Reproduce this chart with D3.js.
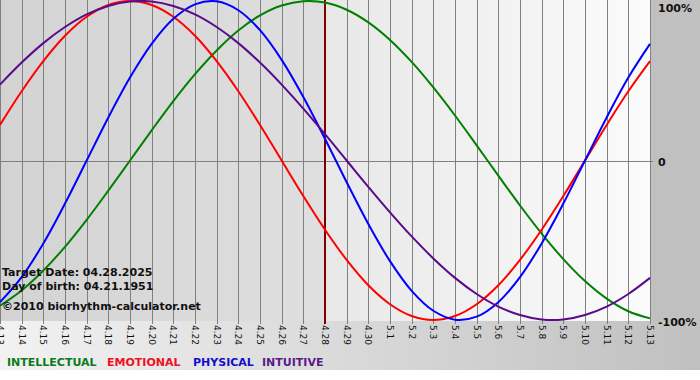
<!DOCTYPE html>
<html><head><meta charset="utf-8">
<script src="https://cdn.jsdelivr.net/npm/d3@7/dist/d3.min.js"></script>
<style>body{margin:0;background:#fff}svg{display:block}</style>
</head><body>
<script>
const dates = ["4.13","4.14","4.15","4.16","4.17","4.18","4.19","4.20","4.21","4.22","4.23","4.24","4.25","4.26","4.27","4.28","4.29","4.30","5.1","5.2","5.3","5.4","5.5","5.6","5.7","5.8","5.9","5.10","5.11","5.12","5.13"];
const intellectual = [-0.910,-0.815,-0.690,-0.541,-0.372,-0.189,0,0.189,0.372,0.541,0.690,0.815,0.910,0.972,0.999,0.990,0.945,0.866,0.756,0.618,0.458,0.282,0.095,-0.095,-0.282,-0.458,-0.618,-0.756,-0.866,-0.945,-0.990];
const emotional = [0.223,0.434,0.623,0.782,0.901,0.975,1.000,0.975,0.901,0.782,0.623,0.434,0.223,0,-0.223,-0.434,-0.623,-0.782,-0.901,-0.975,-1.000,-0.975,-0.901,-0.782,-0.623,-0.434,-0.223,0,0.223,0.434,0.623];
const physical = [-0.888,-0.731,-0.520,-0.270,0,0.270,0.520,0.731,0.888,0.979,0.998,0.942,0.817,0.631,0.398,0.136,-0.136,-0.398,-0.631,-0.817,-0.942,-0.998,-0.979,-0.888,-0.731,-0.520,-0.270,0,0.270,0.520,0.731];
const intuitive = [0.476,0.614,0.736,0.837,0.916,0.969,0.997,0.997,0.969,0.916,0.837,0.736,0.614,0.476,0.325,0.165,0,-0.165,-0.325,-0.476,-0.614,-0.736,-0.837,-0.916,-0.969,-0.997,-0.997,-0.969,-0.916,-0.837,-0.736];
const seriesNames = ["INTELLECTUAL","EMOTIONAL","PHYSICAL","INTUITIVE"];
const seriesColors = ["#008000","#ff0000","#0000ff","#5a0a8c"];
const legendColors = ["#0a7a1a","#ee1122","#1010cc","#5a1a8a"];
const yTicks = [1,0,-1];
const yTickLabels = ["100%","0","-100%"];
const targetDate = "4.28";
const infoLines = ["Target Date: 04.28.2025","Day of birth: 04.21.1951","©2010 biorhythm-calculator.net"];

const W=700,H=380, plotR=651, plotB=321;
const svg=d3.select("body").append("svg").attr("width",W).attr("height",H);
const defs=svg.append("defs");
function grad(id,c1,c2){const g=defs.append("linearGradient").attr("id",id).attr("x1","0").attr("x2","1").attr("y1","0").attr("y2","0");
 g.append("stop").attr("offset","0").attr("stop-color",c1);g.append("stop").attr("offset","1").attr("stop-color",c2);}
grad("gBot","#f2f2f2","#c0c0c0");
grad("gL","#d3d3d3","#dfdfdf");
grad("gR","#e8e8e8","#fbfbfb");

const x=d3.scalePoint().domain(dates).range([0,650]);
const y=d3.scaleLinear().domain([-1,1]).range([320,1]);
const tx=x(targetDate);

svg.append("rect").attr("x",0).attr("y",0).attr("width",W).attr("height",370).attr("fill","url(#gBot)");
svg.append("rect").attr("x",plotR).attr("y",0).attr("width",W-plotR).attr("height",plotB).attr("fill","#c0c0c0");
svg.append("rect").attr("x",0).attr("y",0).attr("width",tx).attr("height",plotB).attr("fill","url(#gL)");
svg.append("rect").attr("x",tx).attr("y",0).attr("width",plotR-tx).attr("height",plotB).attr("fill","url(#gR)");

// vertical grid + ticks
svg.append("g").selectAll("line").data(dates).join("line")
 .attr("x1",d=>Math.round(x(d))+0.5).attr("x2",d=>Math.round(x(d))+0.5)
 .attr("y1",0).attr("y2",324).attr("stroke","#808080").attr("stroke-width",1);
// zero line
svg.append("line").attr("x1",0).attr("x2",653).attr("y1",Math.round(y(0))+0.5).attr("y2",Math.round(y(0))+0.5)
 .attr("stroke","#808080").attr("stroke-width",1);

// target line
svg.append("line").attr("x1",tx).attr("x2",tx).attr("y1",0).attr("y2",324).attr("stroke","#800000").attr("stroke-width",2);

// curves
const line=d3.line().x((d,i)=>x(dates[i])).y(d=>y(d)).curve(d3.curveCatmullRom.alpha(0.5));
const allSeries=[intellectual,emotional,physical,intuitive];
svg.append("g").selectAll("path").data(allSeries).join("path")
 .attr("d",d=>line(d)).attr("fill","none").attr("stroke",(d,i)=>seriesColors[i]).attr("stroke-width",2);

// x tick labels
svg.append("g").selectAll("text").data(dates).join("text")
 .attr("transform",d=>`translate(${x(d)},325) rotate(90)`)
 .attr("dominant-baseline","central").attr("text-anchor","start")
 .attr("font-family","DejaVu Sans").attr("font-size",9).attr("fill","#111").text(d=>d);

// y labels
svg.append("g").selectAll("text").data(yTicks).join("text")
 .attr("x",658).attr("y",d=>Math.max(12,y(d)+5.5))
 .attr("font-family","DejaVu Sans").attr("font-weight","bold").attr("font-size",11).attr("fill","#111")
 .text((d,i)=>yTickLabels[i]);

// info text
svg.append("g").selectAll("text").data(infoLines).join("text")
 .attr("x",2).attr("y",(d,i)=>[276,290,310][i])
 .attr("font-family","DejaVu Sans").attr("font-weight","bold").attr("font-size",11).attr("fill","#111")
 .text(d=>d);

// legend
const legX=[7,107,193,262];
svg.append("g").selectAll("text").data(seriesNames).join("text")
 .attr("x",(d,i)=>legX[i]).attr("y",366)
 .attr("font-family","DejaVu Sans").attr("font-weight","bold").attr("font-size",11)
 .attr("fill",(d,i)=>legendColors[i]).text(d=>d);
</script>
</body></html>
